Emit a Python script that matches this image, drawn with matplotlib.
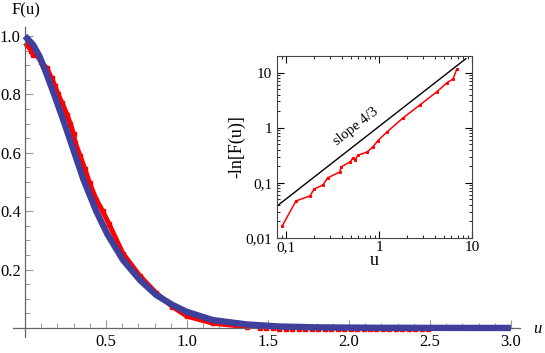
import numpy as np
import matplotlib
matplotlib.use("Agg")
import matplotlib.pyplot as plt
from matplotlib.ticker import FixedLocator, LogLocator, NullFormatter

plt.rcParams['font.family'] = ['Liberation Serif', 'DejaVu Serif']

# fitted curve F(u) (blue, thick)
u_fit = [0.0, 0.05, 0.09, 0.13, 0.17, 0.235, 0.29, 0.36, 0.44, 0.51, 0.605,
         0.71, 0.81, 0.91, 1.0, 1.16, 1.37, 1.57, 1.8, 2.2, 2.6, 3.0]
F_fit = [1.0, 0.97, 0.93, 0.875, 0.815, 0.715, 0.625, 0.51, 0.40, 0.32, 0.233,
         0.164, 0.113, 0.079, 0.055, 0.027, 0.012, 0.005, 0.002, 0.0005, 0.0002, 0.0]

# measured points (red)
u_data = [0.01, 0.04, 0.05, 0.08, 0.10, 0.135, 0.165, 0.185, 0.205, 0.23, 0.26,
          0.28, 0.30, 0.31, 0.34, 0.37, 0.40, 0.44, 0.48, 0.52, 0.605, 0.71,
          0.81, 0.91, 1.0, 1.16, 1.37]
F_data = [0.97, 0.95, 0.935, 0.93, 0.91, 0.89, 0.855, 0.83, 0.80, 0.77, 0.73,
          0.70, 0.665, 0.635, 0.59, 0.545, 0.495, 0.44, 0.40, 0.355, 0.255, 0.178,
          0.12, 0.073, 0.04, 0.016, 0.004]
u_tail = [1.45, 1.49, 1.53, 1.57, 1.61, 1.65, 1.69, 1.73, 1.77, 1.81, 1.85,
          1.89, 1.93, 1.97, 2.01, 2.05, 2.09, 2.13, 2.17, 2.21, 2.25, 2.29,
          2.33, 2.37, 2.41, 2.45, 2.49]
F_tail = [0.001, 0.0, -0.001, -0.002, -0.002, -0.002, -0.002, -0.002, -0.002,
          -0.002, -0.002, -0.002, -0.002, -0.002, -0.002, -0.002, -0.002, -0.002,
          -0.002, -0.002, -0.002, -0.002, -0.002, -0.002, -0.002, -0.002, -0.002]

# inset: -ln F(u) on log-log
u_log = [0.091, 0.128, 0.181, 0.2, 0.25, 0.28, 0.38, 0.39, 0.49, 0.52, 0.55,
         0.6, 0.74, 0.86, 0.97, 1.22, 1.81, 2.76, 4.2, 5.4, 6.25, 6.85]
lnF_log = [0.0165, 0.047, 0.058, 0.077, 0.092, 0.123, 0.158, 0.195, 0.24, 0.28,
           0.26, 0.32, 0.36, 0.45, 0.58, 0.84, 1.5, 2.6, 4.5, 6.6, 7.6, 11.5]
slope_u = [0.08, 8.6]
slope_y = [0.038, 17.9]

fig = plt.figure(figsize=(5.45, 3.53), dpi=100)
ax = fig.add_axes([13/545, 16/353, 507/545, 310/353])

ax.plot(u_data, F_data, color='red', lw=3.5, marker='s', ms=3, zorder=2)
ax.plot(u_tail, F_tail, 's', color='red', ms=3, zorder=2)
ax.plot(u_fit, F_fit, color='#3f3f9c', lw=4.6, solid_capstyle='butt', zorder=3)

ax.set_xlim(-0.074, 3.056)
ax.set_ylim(-0.031, 1.031)
ax.spines['left'].set_position(('data', 0))
ax.spines['bottom'].set_position(('data', 0))
ax.spines['top'].set_visible(False)
ax.spines['right'].set_visible(False)
for s in ['left', 'bottom']:
    ax.spines[s].set_color('#666666')
    ax.spines[s].set_linewidth(0.9)

ax.set_xticks([0.5, 1.0, 1.5, 2.0, 2.5, 3.0])
ax.set_xticklabels(['0.5', '1.0', '1.5', '2.0', '2.5', '3.0'])
ax.xaxis.set_minor_locator(FixedLocator([i / 10 for i in range(1, 31)]))
ax.set_yticks([0.2, 0.4, 0.6, 0.8, 1.0])
ax.set_yticklabels(['0.2', '0.4', '0.6', '0.8', '1.0'])
ax.yaxis.set_minor_locator(FixedLocator([i / 20 for i in range(1, 21)]))
ax.tick_params(which='both', direction='in', color='#999999', labelsize=12)
ax.tick_params(which='major', length=6, width=0.8)
ax.tick_params(which='minor', length=3.5, width=0.7)
ax.tick_params(axis='y', pad=3)
ax.tick_params(axis='x', pad=4)

fig.text(12/545, 1 - 10/353, 'F(u)', fontsize=12, va='center', ha='left')
fig.text(537/545, 1 - 329/353, 'u', fontsize=12, style='italic', va='center', ha='center')

# inset
ax2 = fig.add_axes([277/545, 1 - 238/353, 195/545, 182/353])
ax2.loglog(u_log, lnF_log, color='red', lw=1.1, marker='s', ms=1.2)
ax2.loglog(slope_u, slope_y, color='black', lw=1)
ax2.set_xlim(0.08, 10)
ax2.set_ylim(0.01, 20)
ax2.set_xticks([0.1, 1, 10])
ax2.set_xticklabels(['0,1', '1', '10'])
ax2.set_yticks([0.01, 0.1, 1, 10])
ax2.set_yticklabels(['0,01', '0,1', '1', '10'])
ax2.xaxis.set_minor_locator(LogLocator(base=10, subs=np.arange(2, 10)))
ax2.yaxis.set_minor_locator(LogLocator(base=10, subs=np.arange(2, 10)))
ax2.xaxis.set_minor_formatter(NullFormatter())
ax2.yaxis.set_minor_formatter(NullFormatter())
ax2.tick_params(which='both', direction='in', top=True, right=True, labelsize=11)
ax2.tick_params(which='major', length=5)
ax2.tick_params(which='minor', length=2.5)
ax2.tick_params(axis='x', pad=2)
for s in ax2.spines.values():
    s.set_color('#444444')
ax2.set_xlabel('u', fontsize=13, labelpad=-1)
ax2.set_ylabel('-ln[F(u)]', fontsize=13, labelpad=0)
ax2.text(0.56, 1.05, 'slope 4/3', rotation=38, ha='center', va='center', fontsize=10.5)

fig.savefig('out.png', dpi=100)
